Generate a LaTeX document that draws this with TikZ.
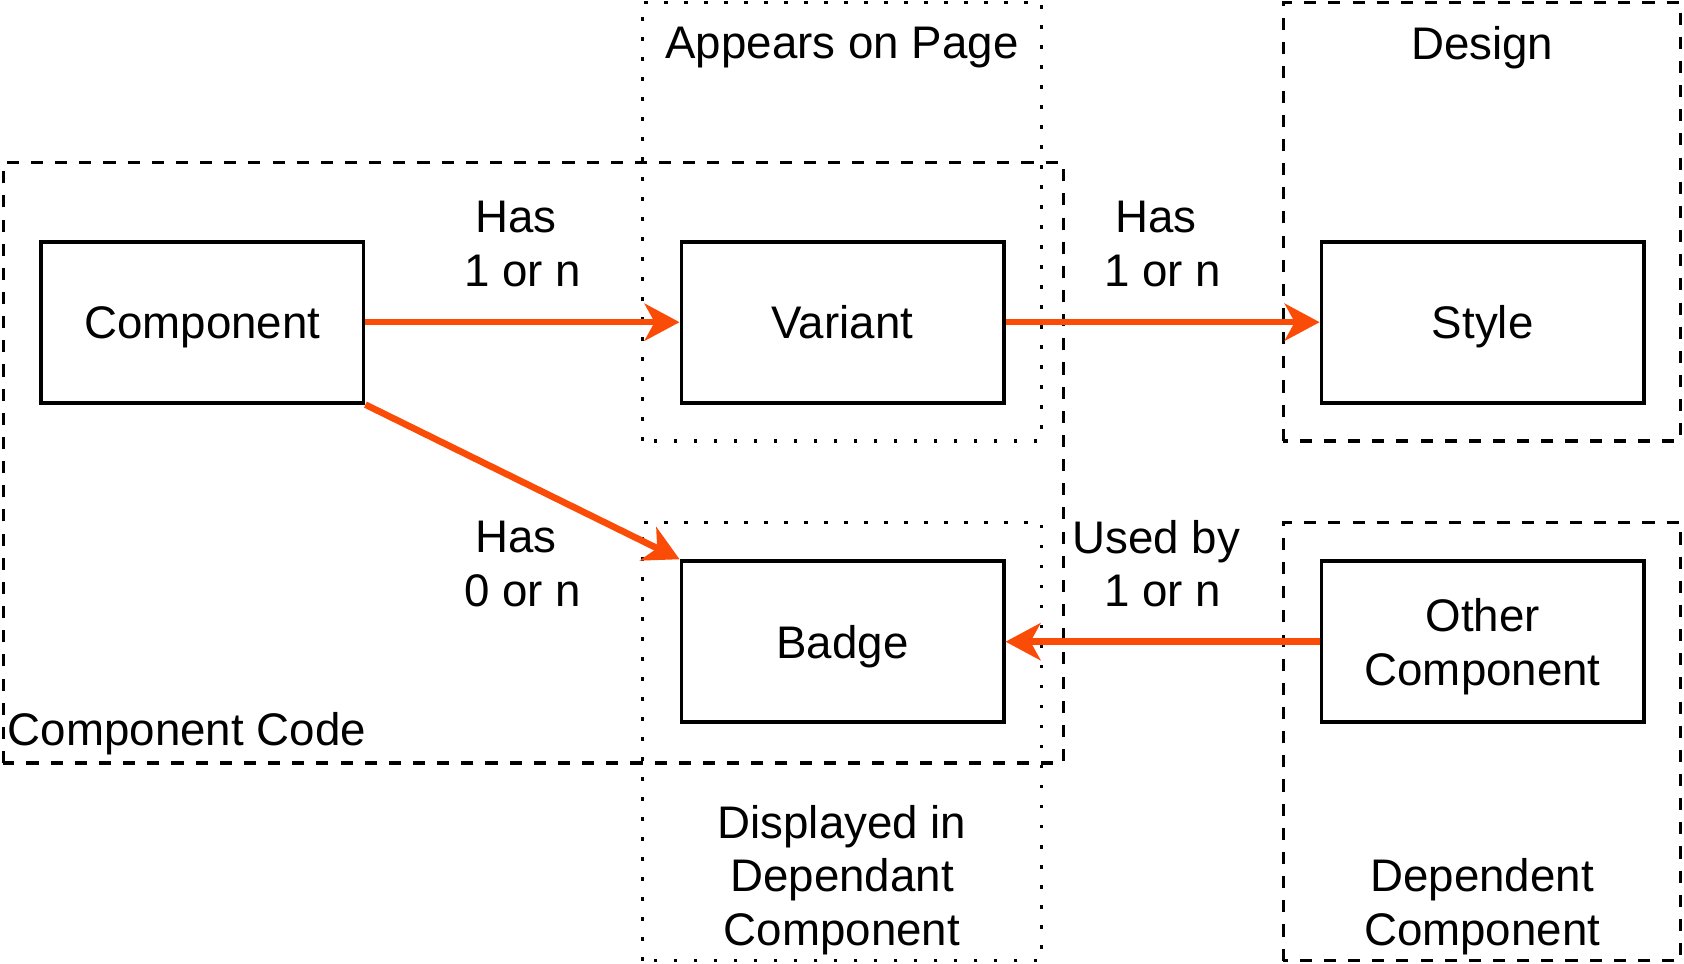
\documentclass[tikz,border=0pt]{standalone}
\usepackage{fontspec}
\setmainfont{Liberation Sans}
\usetikzlibrary{arrows.meta}
\definecolor{linkorange}{RGB}{250,76,7}
\tikzset{
  box/.style={draw, line width=2pt, fill=white, minimum width=6cm, minimum height=3cm, align=center, text depth=0pt},
  codearea/.style={draw, line width=1.75pt, dash pattern=on 6.4pt off 6.4pt},
  pagearea/.style={draw, line width=1.75pt, dash pattern=on 1.8pt off 8.8pt},
  lbl/.style={align=center, inner sep=0pt},
  link/.style={->, >={Stealth[length=18.5pt, width=19.6pt, inset=5.3pt]}, line width=3.5pt, draw=linkorange},
}

\begin{document}
\begin{tikzpicture}[every node/.style={font=\fontsize{24.2pt}{28.5pt}\selectfont}]
\useasboundingbox (0,0) rectangle (31.36,17.95);
\draw[codearea] (0.06,3.74) rectangle (19.8,14.92);
\draw[pagearea] (11.96,9.74) rectangle (19.4,17.9);
\draw[pagearea] (11.96,0.06) rectangle (19.4,8.22);
\draw[codearea] (23.9,9.74) rectangle (31.3,17.9);
\draw[codearea] (23.9,0.06) rectangle (31.3,8.22);
\node[lbl] (pagelbl) at (15.68,17.06) {Appears on Page};
\node[lbl] (designlbl) at (27.6,17.06) {Design};
\node[lbl] (shownlbl) at (15.68,1.56) {Displayed in\\Dependant\\Component};
\node[lbl] (deplbl) at (27.6,1.06) {Dependent\\Component};
\node[lbl, anchor=west] (codelbl) at (0.14,4.28) {Component Code};
\node[box] (comp) at (3.77,11.95) {Component};
\node[box] (var) at (15.69,11.95) {Variant};
\node[box] (sty) at (27.61,11.95) {Style};
\node[box] (badge) at (15.69,6.0) {Badge};
\node[box] (other) at (27.61,6.0) {Other\\Component};
\draw[link] (comp)--(var) node[lbl, pos=0.5, above=16.8pt]{Has\kern.28em\\1 or n};
\draw[link] (var)--(sty) node[lbl, pos=0.5, above=16.8pt]{Has\kern.28em\\1 or n};
\draw[link] (comp.south east)--(badge.north west) node[lbl, pos=0.5, below=19pt]{Has\kern.28em\\0 or n};
\draw[link] (other)--(badge) node[lbl, pos=0.5, above=16.5pt]{Used by\kern.28em\\1 or n};
\end{tikzpicture}
\end{document}
